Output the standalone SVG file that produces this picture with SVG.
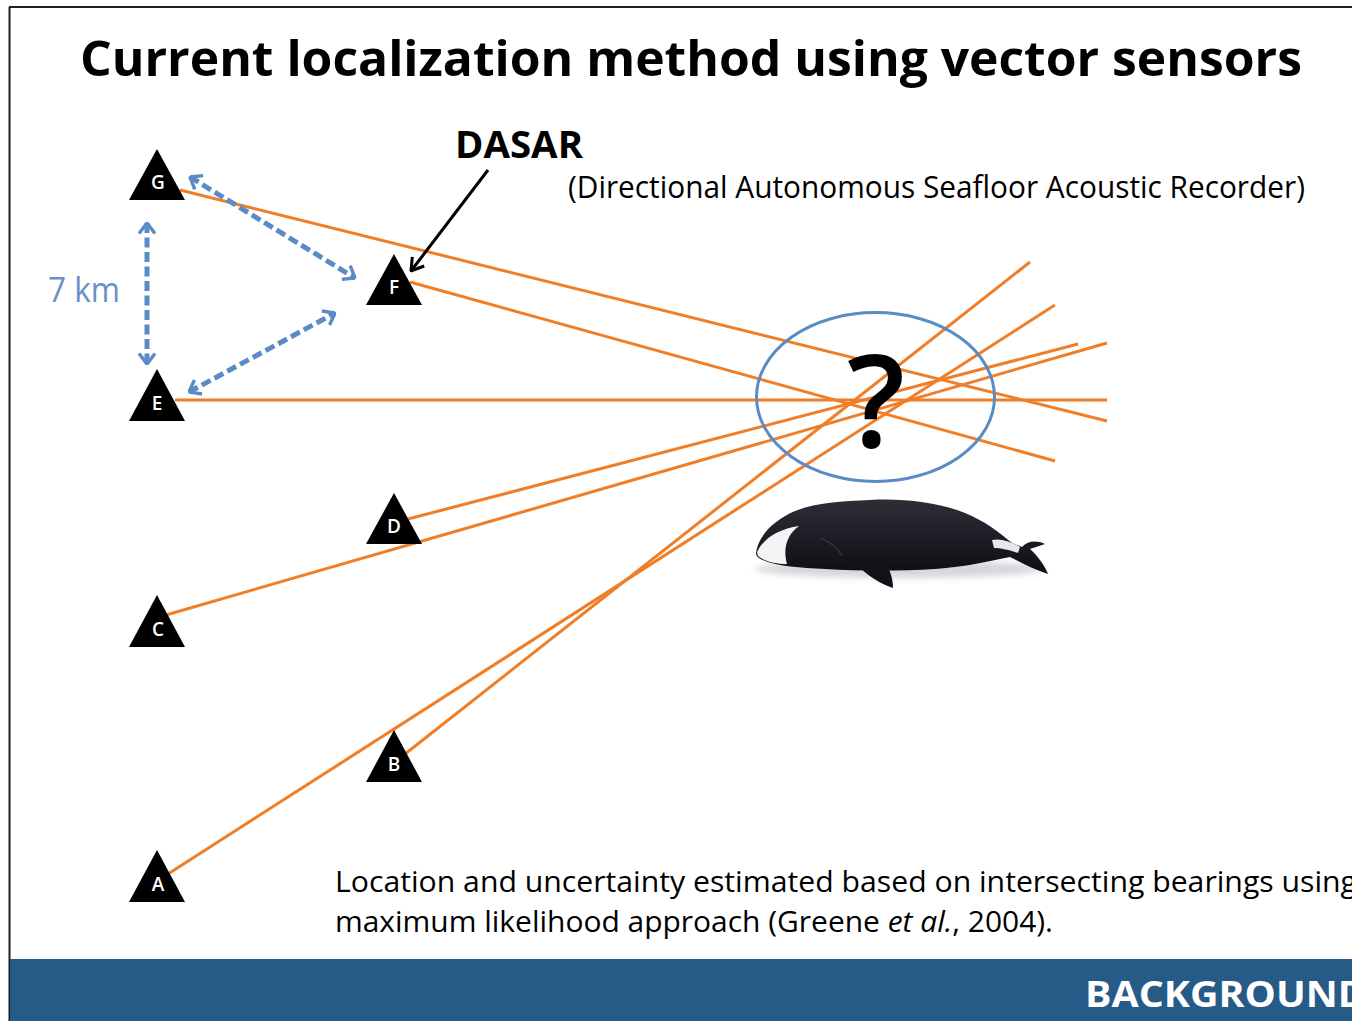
<svg xmlns="http://www.w3.org/2000/svg" width="1352" height="1021" viewBox="0 0 1352 1021">
  <style>
    .tri { fill: #000000; }
    .lbl { font-family: "Open Sans", "Liberation Sans", sans-serif; font-size: 19px; font-weight: 600; fill: #ffffff; text-anchor: middle; }
    .bearing { stroke: #f07e26; stroke-width: 3; fill: none; }
    .spacing { stroke: #5b8bc6; stroke-width: 5; stroke-dasharray: 10 4.5; fill: none; marker-start: url(#chev); marker-end: url(#chev); }
    .txt { font-family: "Open Sans", "Liberation Sans", sans-serif; fill: #000000; }
  </style>
  <defs>
    <marker id="chev" viewBox="0 0 13 20" refX="12" refY="10" markerWidth="13" markerHeight="20" markerUnits="userSpaceOnUse" orient="auto-start-reverse">
      <path d="M1.5,2 L12,10 L1.5,18" fill="none" stroke="#5b8bc6" stroke-width="3.4"/>
    </marker>
    <marker id="blackchev" viewBox="0 0 14 18" refX="13" refY="9" markerWidth="14" markerHeight="18" markerUnits="userSpaceOnUse" orient="auto">
      <path d="M1,1.5 L13,9 L1,16.5" fill="none" stroke="#000000" stroke-width="3"/>
    </marker>
    <linearGradient id="whaleBody" x1="0" y1="0" x2="0" y2="1">
      <stop offset="0" stop-color="#2e2e38"/>
      <stop offset="1" stop-color="#0d0d13"/>
    </linearGradient>
    <filter id="soft" x="-10%" y="-50%" width="120%" height="200%">
      <feGaussianBlur stdDeviation="3"/>
    </filter>
  </defs>

  <!-- slide frame -->
  <rect x="0" y="0" width="1352" height="1021" fill="#ffffff"/>
  <line x1="9" y1="7" x2="1352" y2="7" stroke="#1e1e1e" stroke-width="2"/>
  <line x1="9.5" y1="7" x2="9.5" y2="1021" stroke="#1e1e1e" stroke-width="2"/>

  <!-- title -->
  <text class="txt" x="80" y="76" font-size="49" font-weight="bold" textLength="1222" lengthAdjust="spacingAndGlyphs">Current localization method using vector sensors</text>

  <!-- bearings and spacing arrows -->
  <g id="connectors">
    <line class="bearing" x1="180" y1="190" x2="1107" y2="421"/>
    <line class="bearing" x1="410" y1="282" x2="1055" y2="461"/>
    <line class="bearing" x1="175" y1="400" x2="1107" y2="400"/>
    <line class="bearing" x1="408" y1="519" x2="1078" y2="344"/>
    <line class="bearing" x1="166" y1="615" x2="1107" y2="343"/>
    <line class="bearing" x1="405" y1="754" x2="1030" y2="262"/>
    <line class="bearing" x1="168" y1="874" x2="1055" y2="305"/>

    <line class="spacing" x1="147" y1="223" x2="147" y2="364"/>
    <line class="spacing" x1="190" y1="177" x2="355" y2="278"/>
    <line class="spacing" x1="189" y1="392" x2="335" y2="313"/>

    <line x1="488" y1="170" x2="411" y2="271" stroke="#000000" stroke-width="3" marker-end="url(#blackchev)"/>
  </g>

  <!-- sensors -->
  <g id="node-G"><polygon class="tri" points="157,149 129,200 185,200"/><text class="lbl" x="158" y="189">G</text></g>
  <g id="node-F"><polygon class="tri" points="394,254 366,305 422,305"/><text class="lbl" x="394" y="294">F</text></g>
  <g id="node-E"><polygon class="tri" points="157,369 129,421 185,421"/><text class="lbl" x="157" y="410">E</text></g>
  <g id="node-D"><polygon class="tri" points="394,493 366,544 422,544"/><text class="lbl" x="394" y="533">D</text></g>
  <g id="node-C"><polygon class="tri" points="157,595 129,647 185,647"/><text class="lbl" x="158" y="636">C</text></g>
  <g id="node-B"><polygon class="tri" points="394,730 366,782 422,782"/><text class="lbl" x="394" y="771">B</text></g>
  <g id="node-A"><polygon class="tri" points="157,850 129,902 185,902"/><text class="lbl" x="158" y="891">A</text></g>

  <!-- uncertainty region -->
  <g id="uncertainty">
    <ellipse cx="875.5" cy="397" rx="119" ry="84.5" fill="none" stroke="#5a8cc4" stroke-width="3"/>
    <text class="txt" x="876" y="447" font-size="128" font-weight="600" text-anchor="middle">?</text>
  </g>

  <!-- labels -->
  <g id="label-dasar">
    <text class="txt" x="455" y="158" font-size="37" font-weight="bold" textLength="128" lengthAdjust="spacingAndGlyphs">DASAR</text>
    <text class="txt" x="568" y="198" font-size="31" textLength="737" lengthAdjust="spacingAndGlyphs">(Directional Autonomous Seafloor Acoustic Recorder)</text>
  </g>
  <text id="label-scale" class="txt" x="48" y="302" font-size="34" style="fill:#6a8fc9" textLength="72" lengthAdjust="spacingAndGlyphs">7 km</text>

  <!-- bowhead whale -->
  <g id="whale">
    <ellipse cx="900" cy="569" rx="145" ry="9" fill="#9a9aa4" opacity="0.4" filter="url(#soft)"/>
    <path d="M756,553 C758,537 772,521 795,511 C815,503 840,501 870,500 C905,498 940,503 965,513 C985,521 1000,533 1012,543 L1022,547 C1028,541 1036,540 1045,544 L1030,549 C1038,556 1045,566 1048,574 C1035,570 1022,563 1010,557 C990,561 965,567 935,569 C900,571 860,571 825,569 C800,568 778,566 765,561 C759,559 756,556 756,553 Z" fill="url(#whaleBody)"/>
    <path d="M757,552 C763,539 778,529 799,526 C789,533 782,546 787,564 C775,564 764,561 758,556 Z" fill="#f4f4f6"/>
    <path d="M820,538 C830,542 838,548 842,556" fill="none" stroke="#3c3c46" stroke-width="1.2"/>
    <path d="M992,540 C1000,538 1010,541 1020,547 L1018,553 C1010,550 1000,548 994,548 Z" fill="#e8e8ec"/>
    <path d="M852,558 C860,570 875,582 893,588 C893,576 888,565 882,559 Z" fill="#111117"/>
  </g>

  <!-- note -->
  <g id="note">
    <text class="txt" x="335" y="892" font-size="30" textLength="1022" lengthAdjust="spacingAndGlyphs">Location and uncertainty estimated based on intersecting bearings using</text>
    <text class="txt" x="335" y="932" font-size="30" textLength="718" lengthAdjust="spacingAndGlyphs">maximum likelihood approach (Greene <tspan font-style="italic">et al.</tspan>, 2004).</text>
  </g>

  <!-- footer banner -->
  <g id="footer">
    <rect x="10" y="959" width="1342" height="62" fill="#265a87"/>
    <text x="1085" y="1007" font-family="'Open Sans', 'Liberation Sans', sans-serif" font-size="35" font-weight="bold" fill="#ffffff" textLength="282" lengthAdjust="spacingAndGlyphs">BACKGROUND</text>
  </g>
</svg>
